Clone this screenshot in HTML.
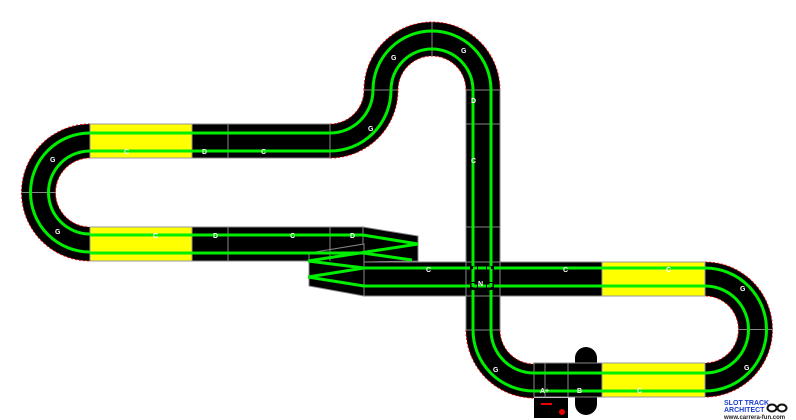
<!DOCTYPE html>
<html><head><meta charset="utf-8"><style>
html,body{margin:0;padding:0;background:#fff;}
svg{display:block;}
text{font-family:"Liberation Sans",sans-serif;font-size:7px;fill:#fff;font-weight:bold;}
</style></head><body>
<svg width="796" height="420" viewBox="0 0 796 420" xmlns="http://www.w3.org/2000/svg">
<rect x="575" y="347" width="22" height="68" rx="11" fill="#000"/>
<!-- curves -->
<g fill="#000" stroke="#e00" stroke-width="1" stroke-dasharray="2,2">
<path d="M90,124 A68.5,68.5 0 0 0 90,261 L90,227 A34.5,34.5 0 0 1 90,158 Z"/>
<path d="M705,262 A67.5,67.5 0 0 1 705,397 L705,363 A33.5,33.5 0 0 0 705,296 Z"/>
<path d="M466,330 A68,68 0 0 0 534,398 L534,364 A34,34 0 0 1 500,330 Z"/>
<path d="M330,158 A68,68 0 0 0 398,90 L364,90 A34,34 0 0 1 330,124 Z"/>
<path d="M364,90 A68,68 0 0 1 500,90 L466,90 A34,34 0 0 0 398,90 Z"/>
</g>
<!-- straights -->
<g fill="#000" stroke="#888" stroke-width="1">
<rect x="90" y="124" width="240" height="34"/>
<rect x="90" y="227" width="273" height="34"/>
<rect x="466" y="90" width="34" height="240"/>
<rect x="364" y="262" width="341" height="34"/>
<rect x="534" y="363" width="171" height="34"/>
<polygon points="363,227 418,236 418,261 363,262"/>
<polygon points="309,253 364,244 364,296 309,286"/>
</g>
<!-- yellow -->
<g fill="#ffff00" stroke="#999" stroke-width="1">
<rect x="90" y="124" width="102" height="34"/>
<rect x="90" y="227" width="102" height="34"/>
<rect x="602" y="262" width="103" height="34"/>
<rect x="602" y="363" width="103" height="34"/>
</g>
<!-- joints -->
<g stroke="#888" stroke-width="1">
<line x1="228" y1="124" x2="228" y2="158"/>
<line x1="228" y1="227" x2="228" y2="261"/>
<line x1="330" y1="227" x2="330" y2="261"/>
<line x1="364" y1="90" x2="398" y2="90"/>
<line x1="432" y1="22" x2="432" y2="56"/>
<line x1="466" y1="124" x2="500" y2="124"/>
<line x1="466" y1="227" x2="500" y2="227"/>
<line x1="466" y1="262" x2="466" y2="296"/>
<line x1="500" y1="262" x2="500" y2="296"/>
<line x1="466" y1="296" x2="500" y2="296"/>
<line x1="22" y1="192.5" x2="56" y2="192.5"/>
<line x1="739" y1="329.5" x2="773" y2="329.5"/>
<line x1="568" y1="363" x2="568" y2="397"/>
<line x1="545" y1="363" x2="545" y2="397"/>
</g>
<!-- lanes -->
<g fill="none" stroke="#00ee00" stroke-width="3">
<path d="M90,133 A59.5,59.5 0 0 0 90,252 M90,151 A41.5,41.5 0 0 0 90,234"/>
<path d="M90,133 H330 A43,43 0 0 0 373,90 A59,59 0 0 1 491,90 V330 A43,43 0 0 0 534,373 H705 A43.5,43.5 0 0 0 705,286 H364"/>
<path d="M90,151 H330 A61,61 0 0 0 391,90 A41,41 0 0 1 473,90 V330 A61,61 0 0 0 534,391 H705 A61.5,61.5 0 0 0 705,268 H364"/>
<path d="M90,235 H363 L418,244 L308,261 L364,268"/>
<path d="M90,253 H363 L412,260 M308,277 L364,268 M308,277 L364,286"/>
</g>
<!-- crossing gaps -->
<g fill="#000">
<rect x="468" y="264" width="10" height="8"/><rect x="486" y="264" width="10" height="8"/>
<rect x="468" y="282" width="10" height="8"/><rect x="486" y="282" width="10" height="8"/>
</g>
<g stroke="#00ee00" stroke-width="3" stroke-dasharray="4,3">
<line x1="466" y1="268" x2="500" y2="268"/><line x1="466" y1="286" x2="500" y2="286"/>
<line x1="473" y1="262" x2="473" y2="296"/><line x1="491" y1="262" x2="491" y2="296"/>
</g>
<!-- labels -->
<text x="124" y="154">C</text><text x="202" y="154">D</text><text x="261" y="154">C</text>
<text x="153" y="238">C</text><text x="213" y="238">D</text><text x="290" y="238">C</text><text x="350" y="238">D</text>
<text x="426" y="272">C</text><text x="563" y="272">C</text><text x="666" y="272">C</text><text x="478" y="286">N</text>
<text x="471" y="103">D</text><text x="471" y="163">C</text>
<text x="50" y="162">G</text><text x="55" y="234">G</text><text x="368" y="131">G</text><text x="391" y="60">G</text><text x="461" y="53">G</text>
<text x="740" y="291">G</text><text x="744" y="370">G</text><text x="493" y="372">G</text>
<text x="540" y="393">A+</text><text x="577" y="393">B</text><text x="637" y="393">C</text>
<!-- power -->
<rect x="534" y="398" width="34" height="20" fill="#000"/>
<rect x="541" y="403" width="11" height="2" fill="#e00"/>
<circle cx="562" cy="412" r="3" fill="#e00"/>
<!-- logo -->
<text x="724" y="405" style="fill:#1a3fd0;font-size:7px">SLOT TRACK</text>
<text x="724" y="412" style="fill:#1a3fd0;font-size:7px">ARCHITECT</text>
<text x="724" y="419" style="fill:#222;font-size:6px">www.carrera-fun.com</text>
<ellipse cx="772" cy="408" rx="4.5" ry="3.5" fill="none" stroke="#111" stroke-width="2"/>
<ellipse cx="782" cy="408" rx="4.5" ry="3.5" fill="none" stroke="#111" stroke-width="2"/>
</svg>
</body></html>
